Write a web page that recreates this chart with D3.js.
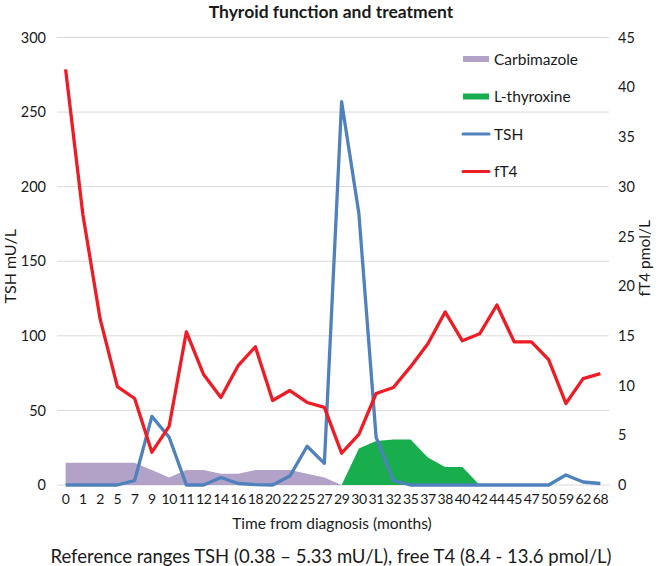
<!DOCTYPE html>
<html><head><meta charset="utf-8">
<script src="https://cdn.jsdelivr.net/npm/d3@7"></script>
<style>
body{margin:0;background:#fff;}
text{font-family:Lato,"Open Sans",sans-serif;fill:#1a1a1a;}
</style></head>
<body><svg id="c" width="661" height="566"></svg>
<script>
const months = ["0","1","2","5","7","9","10","11","12","14","16","18","20","22","25","27","29","30","31","32","35","37","38","40","42","44","45","47","50","59","62","68"];
const carbimazole = [15,15,15,15,15,10,5,10,10,7.5,7.5,10,10,10,7.5,5,0,null,null,null,null,null,null,null,null,null,null,null,null,null,null,null];
const lthyroxine = [null,null,null,null,null,null,null,null,null,null,null,null,null,null,null,null,0,24.5,29.5,30.5,30.5,18.5,12,12,0,null,null,null,null,null,null,null];
const tsh = [0,0,0,0,3,46,32,0,0,5,1,0.3,0,6,26,14.5,257,182,32,3,0,0,0,0,0,0,0,0,0,6.7,2,1];
const ft4 = [41.8,27.2,16.7,9.9,8.7,3.3,5.9,15.4,11.1,8.8,12,13.9,8.5,9.5,8.3,7.8,3.2,5.1,9.2,9.8,11.9,14.2,17.4,14.5,15.2,18.1,14.4,14.4,12.6,8.2,10.7,11.2];
const leftTicks = [0,50,100,150,200,250,300];
const rightTicks = [0,5,10,15,20,25,30,35,40,45];
const legendItems = [
  {name:"Carbimazole", color:"#b3a2c7", type:"area"},
  {name:"L-thyroxine", color:"#18ad4d", type:"area"},
  {name:"TSH", color:"#4f81bd", type:"line"},
  {name:"fT4", color:"#ee1c25", type:"line"}
];

const svg = d3.select("#c");
const L=57, R=609, T=37.5, B=485;
const x = d3.scaleBand().domain(months).range([L,R]).padding(0);
const cx = d => x(d)+x.bandwidth()/2;
const yL = d3.scaleLinear().domain([0,300]).range([B,T]);
const yR = d3.scaleLinear().domain([0,45]).range([B,T]);

// gridlines
svg.append("g").selectAll("line").data(leftTicks).join("line")
  .attr("x1",L).attr("x2",R).attr("y1",d=>yL(d)).attr("y2",d=>yL(d))
  .attr("stroke","#d9d9d9").attr("stroke-width",1);

const ff = "Lato, 'Open Sans', sans-serif";
const axL = svg.append("g").attr("transform",`translate(${L},0)`)
  .call(d3.axisLeft(yL).tickValues(leftTicks).tickSize(0).tickPadding(11));
axL.select(".domain").remove();
axL.selectAll("text").attr("font-size",14.5).attr("font-family",ff).attr("fill","#1a1a1a");

const axR = svg.append("g").attr("transform",`translate(${R},0)`)
  .call(d3.axisRight(yR).tickValues(rightTicks).tickSize(0).tickPadding(9));
axR.select(".domain").remove();
axR.selectAll("text").attr("font-size",14.5).attr("font-family",ff).attr("fill","#1a1a1a");

const axB = svg.append("g").attr("transform",`translate(0,${B})`)
  .call(d3.axisBottom(x).tickSize(0).tickPadding(9));
axB.select(".domain").remove();
axB.selectAll("text").attr("font-size",14).attr("font-family",ff).attr("fill","#1a1a1a").attr("letter-spacing",-0.4);

// areas
const areaGen = d3.area().defined(d=>d.v!==null).x(d=>cx(d.m)).y0(yL(0)).y1(d=>yL(d.v));
svg.append("path").datum(months.map((m,i)=>({m,v:carbimazole[i]})))
  .attr("d",areaGen).attr("fill","#b3a2c7");
svg.append("path").datum(months.map((m,i)=>({m,v:lthyroxine[i]})))
  .attr("d",areaGen).attr("fill","#18ad4d");

// lines
const lineL = d3.line().x((d,i)=>cx(months[i])).y(d=>yL(d));
const lineR = d3.line().x((d,i)=>cx(months[i])).y(d=>yR(d));
svg.append("path").datum(tsh).attr("d",lineL).attr("fill","none")
  .attr("stroke","#4f81bd").attr("stroke-width",3.3).attr("stroke-linejoin","round");
svg.append("path").datum(ft4).attr("d",lineR).attr("fill","none")
  .attr("stroke","#ee1c25").attr("stroke-width",3.3).attr("stroke-linejoin","round");

// legend
const lg = svg.append("g");
legendItems.forEach((it,i)=>{
  const y = 59 + i*37.5;
  if(it.type==="area"){
    lg.append("rect").attr("x",463).attr("y",y-3).attr("width",26).attr("height",6).attr("fill",it.color);
  } else {
    lg.append("line").attr("x1",463).attr("x2",489).attr("y1",y).attr("y2",y)
      .attr("stroke",it.color).attr("stroke-width",3).attr("stroke-linecap","round");
  }
  lg.append("text").attr("x",494).attr("y",y+5.5).attr("font-size",15.5).text(it.name);
});

// titles
svg.append("text").attr("x",331).attr("y",18).attr("text-anchor","middle")
  .attr("font-size",17.5).attr("font-weight","bold").text("Thyroid function and treatment");
svg.append("text").attr("transform",`translate(16,${(T+B)/2+5}) rotate(-90)`).attr("text-anchor","middle")
  .attr("font-size",16).text("TSH mU/L");
svg.append("text").attr("transform",`translate(650,${(T+B)/2-3}) rotate(-90)`).attr("text-anchor","middle")
  .attr("font-size",15.5).text("fT4 pmol/L");
svg.append("text").attr("x",332).attr("y",529).attr("text-anchor","middle")
  .attr("font-size",15.5).text("Time from diagnosis (months)");
svg.append("text").attr("x",331).attr("y",563).attr("text-anchor","middle")
  .attr("font-size",18.5).text("Reference ranges TSH (0.38 – 5.33 mU/L), free T4 (8.4 - 13.6 pmol/L)");
</script></body></html>
